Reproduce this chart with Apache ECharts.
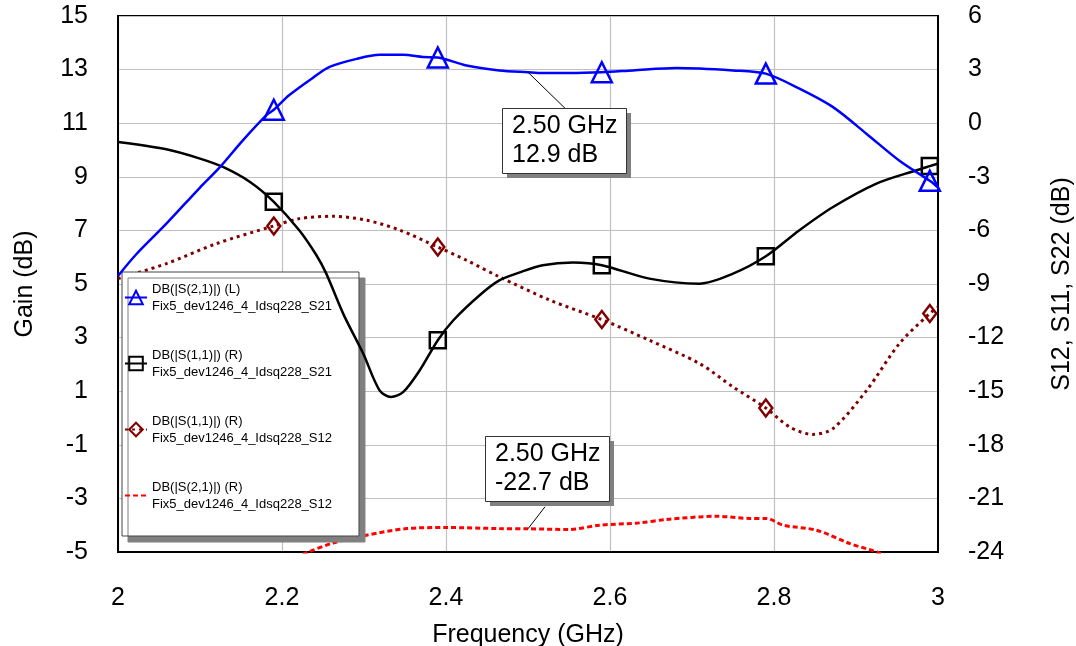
<!DOCTYPE html>
<html>
<head>
<meta charset="utf-8">
<script src="https://cdn.jsdelivr.net/npm/echarts@6/dist/echarts.min.js"></script>
<style>
  html, body { margin: 0; padding: 0; background: #fff; }
  #chart { width: 1076px; height: 646px; }
</style>
</head>
<body>
<div id="chart"></div>
<script>
// ---- Data ----
const markerFreqs = [2.19, 2.39, 2.59, 2.79, 2.99];

// DB(|S(2,1)|) (L) Fix5_dev1246_4_Idsq228_S21 — left axis (Gain)
const freqS21 = [2.0, 2.022, 2.059, 2.1, 2.124, 2.152, 2.181, 2.19, 2.209, 2.238, 2.258, 2.291, 2.319, 2.348, 2.372, 2.39, 2.425, 2.465, 2.5, 2.518, 2.55, 2.59, 2.628, 2.681, 2.75, 2.79, 2.831, 2.872, 2.913, 2.953, 2.99, 3.0];
const gainS21 = [5.3, 6.1, 7.25, 8.6, 9.35, 10.35, 11.3, 11.5, 12.05, 12.7, 13.1, 13.4, 13.55, 13.55, 13.47, 13.45, 13.15, 12.97, 12.9, 12.87, 12.87, 12.9, 12.97, 13.06, 12.97, 12.85, 12.29, 11.6, 10.6, 9.6, 8.85, 8.6];

// DB(|S(1,1)|) (R) Fix5_dev1246_4_Idsq228_S21 — right axis
const freqS11a = [2.0, 2.059, 2.1, 2.128, 2.161, 2.19, 2.221, 2.242, 2.254, 2.275, 2.299, 2.319, 2.333, 2.348, 2.368, 2.39, 2.409, 2.441, 2.465, 2.49, 2.518, 2.555, 2.59, 2.648, 2.709, 2.75, 2.79, 2.831, 2.872, 2.925, 2.974, 2.99, 3.0];
const s11a = [-1.05, -1.46, -1.98, -2.45, -3.29, -4.4, -5.99, -7.39, -8.42, -10.7, -12.89, -14.95, -15.32, -15.04, -13.83, -12.15, -11.03, -9.63, -8.8, -8.35, -7.95, -7.8, -7.95, -8.7, -8.98, -8.42, -7.45, -5.99, -4.69, -3.38, -2.63, -2.4, -2.26];

// DB(|S(1,1)|) (R) Fix5_dev1246_4_Idsq228_S12 — right axis
const freqS11b = [2.0, 2.059, 2.12, 2.19, 2.221, 2.262, 2.303, 2.344, 2.39, 2.425, 2.465, 2.527, 2.59, 2.648, 2.709, 2.75, 2.79, 2.819, 2.847, 2.872, 2.913, 2.953, 2.99, 3.0];
const s11b = [-8.7, -7.86, -6.74, -5.75, -5.34, -5.21, -5.43, -5.99, -6.93, -7.67, -8.6, -9.91, -10.99, -12.15, -13.45, -14.76, -15.94, -17.0, -17.42, -17.09, -14.95, -12.33, -10.65, -10.3];

// DB(|S(2,1)|) (R) Fix5_dev1246_4_Idsq228_S12 — right axis
const freqS21b = [2.0, 2.1, 2.2, 2.232, 2.262, 2.303, 2.352, 2.4, 2.465, 2.5, 2.55, 2.587, 2.636, 2.669, 2.73, 2.77, 2.791, 2.811, 2.852, 2.892, 2.925, 2.96, 3.0];
const s21b = [-27, -26, -24.6, -24.0, -23.5, -23.06, -22.69, -22.63, -22.69, -22.7, -22.74, -22.5, -22.37, -22.18, -22.0, -22.12, -22.12, -22.5, -22.78, -23.52, -24.0, -24.7, -25.5];

const seriesNames = [
  'DB(|S(2,1)|) (L)\nFix5_dev1246_4_Idsq228_S21',
  'DB(|S(1,1)|) (R)\nFix5_dev1246_4_Idsq228_S21',
  'DB(|S(1,1)|) (R)\nFix5_dev1246_4_Idsq228_S12',
  'DB(|S(2,1)|) (R)\nFix5_dev1246_4_Idsq228_S12'
];

const annotations = [
  { freq: 2.5, value: 12.9, axis: 0, text: '2.50 GHz\n12.9 dB' },
  { freq: 2.5, value: -22.7, axis: 1, text: '2.50 GHz\n-22.7 dB' }
];

// ---- Build ----
const FONT = 'Liberation Sans, Arial, sans-serif';
function buildData(freqs, vals, marked) {
  return freqs.map((f, i) => {
    const isMarker = marked && markerFreqs.some(m => Math.abs(m - f) < 1e-9);
    return isMarker ? { value: [f, vals[i]] } : { value: [f, vals[i]], symbol: 'none' };
  });
}

const chart = echarts.init(document.getElementById('chart'), null, { renderer: 'canvas' });

const option = {
  animation: false,
  backgroundColor: '#fff',
  grid: { left: 118, right: 138, top: 16, bottom: 94, show: true, borderColor: '#000', borderWidth: 2, backgroundColor: 'transparent', outerBoundsMode: 'none', containLabel: false },
  legend: {
    orient: 'vertical',
    left: 122, top: 272,
    data: seriesNames,
    padding: [0, 27, 15, 2],
    itemGap: 15,
    itemWidth: 22,
    itemHeight: 17,
    backgroundColor: '#fff',
    borderColor: '#444',
    borderWidth: 1,
    borderRadius: 0,
    shadowColor: '#808080',
    shadowBlur: 0,
    shadowOffsetX: 6,
    shadowOffsetY: 6,
    selectedMode: false,
    textStyle: { fontFamily: FONT, fontSize: 13, color: '#000', lineHeight: 17, padding: [17, 0, 0, 0] }
  },
  xAxis: {
    type: 'value', min: 2, max: 3, interval: 0.2,
    name: 'Frequency (GHz)', nameLocation: 'middle', nameGap: 71,
    nameTextStyle: { fontFamily: FONT, fontSize: 25, color: '#000' },
    axisLine: { show: true, onZero: false, lineStyle: { color: '#000', width: 2 } },
    axisTick: { show: false },
    axisLabel: { fontFamily: FONT, fontSize: 25, color: '#000', margin: 34 },
    splitLine: { show: true, lineStyle: { color: '#c0c0c0', width: 1.2 } }
  },
  yAxis: [
    {
      type: 'value', min: -5, max: 15, interval: 2, position: 'left',
      name: 'Gain (dB)', nameLocation: 'middle', nameGap: 80, nameRotate: 90,
      nameTextStyle: { fontFamily: FONT, fontSize: 25, color: '#000' },
      axisLine: { show: true, onZero: false, lineStyle: { color: '#000', width: 2 } },
      axisTick: { show: false },
      axisLabel: { fontFamily: FONT, fontSize: 25, color: '#000', margin: 30 },
      splitLine: { show: true, lineStyle: { color: '#c0c0c0', width: 1.2 } }
    },
    {
      type: 'value', min: -24, max: 6, interval: 3, position: 'right',
      name: 'S12, S11, S22 (dB)', nameLocation: 'middle', nameGap: 112, nameRotate: 90,
      nameTextStyle: { fontFamily: FONT, fontSize: 25, color: '#000' },
      axisLine: { show: true, onZero: false, lineStyle: { color: '#000', width: 2 } },
      axisTick: { show: false },
      axisLabel: { fontFamily: FONT, fontSize: 25, color: '#000', margin: 30 },
      splitLine: { show: false }
    }
  ],
  series: [
    {
      name: seriesNames[0], type: 'line', yAxisIndex: 0, smooth: 0.3, showAllSymbol: true,
      symbol: 'triangle', symbolSize: 20,
      lineStyle: { color: '#0000ff', width: 2.5 },
      itemStyle: { color: 'rgba(255,255,255,0)', borderColor: '#0000ff', borderWidth: 2.5 },
      data: buildData(freqS21, gainS21, true), z: 5
    },
    {
      name: seriesNames[1], type: 'line', yAxisIndex: 1, smooth: 0.3, showAllSymbol: true,
      symbol: 'rect', symbolSize: 16,
      lineStyle: { color: '#000000', width: 2.5 },
      itemStyle: { color: 'rgba(255,255,255,0)', borderColor: '#000000', borderWidth: 2.5 },
      data: buildData(freqS11a, s11a, true), z: 4
    },
    {
      name: seriesNames[2], type: 'line', yAxisIndex: 1, smooth: 0.3, showAllSymbol: true,
      symbol: 'diamond', symbolSize: [13, 17],
      lineStyle: { color: '#800000', width: 3, type: [3, 4] },
      itemStyle: { color: 'rgba(255,255,255,0)', borderColor: '#800000', borderWidth: 2.5 },
      data: buildData(freqS11b, s11b, true), z: 3
    },
    {
      name: seriesNames[3], type: 'line', yAxisIndex: 1, smooth: 0.3,
      symbol: 'none',
      lineStyle: { color: '#ff0000', width: 3, type: [5, 3] },
      itemStyle: { color: 'rgba(255,0,0,0)', borderColor: 'rgba(255,0,0,0)' },
      data: buildData(freqS21b, s21b, false), z: 3
    }
  ]
};
chart.setOption(option);

// ---- Annotation boxes (anchored to data points via the axes) ----
function annotationGraphics() {
  const els = [];
  const layout = [
    { box: [-26, 36], lineFrom: [0, 0], lineTo: [37, 36] },
    { box: [-43, -93], lineFrom: [17, -22], lineTo: [0, 0] }
  ];
  annotations.forEach((a, i) => {
    const p = chart.convertToPixel({ xAxisIndex: 0, yAxisIndex: a.axis }, [a.freq, a.value]);
    const L = layout[i];
    const bx = Math.round(p[0] + L.box[0]), by = Math.round(p[1] + L.box[1]);
    const w = 124, h = 65;
    els.push({ type: 'line', z: 20, shape: { x1: p[0] + L.lineFrom[0], y1: p[1] + L.lineFrom[1], x2: p[0] + L.lineTo[0], y2: p[1] + L.lineTo[1] }, style: { stroke: '#000', lineWidth: 1 } });
    els.push({ type: 'rect', z: 21, shape: { x: bx + 5, y: by + 5, width: w, height: h }, style: { fill: '#808080' } });
    els.push({ type: 'rect', z: 22, shape: { x: bx + 0.5, y: by + 0.5, width: w, height: h }, style: { fill: '#fff', stroke: '#333', lineWidth: 1 } });
    els.push({ type: 'text', z: 23, x: bx + 10, y: by + 4, style: { text: a.text, fontFamily: FONT, fontSize: 25, lineHeight: 29, fill: '#000', verticalAlign: 'top', align: 'left' } });
  });
  return els;
}
chart.setOption({ graphic: annotationGraphics() });
</script>
</body>
</html>
